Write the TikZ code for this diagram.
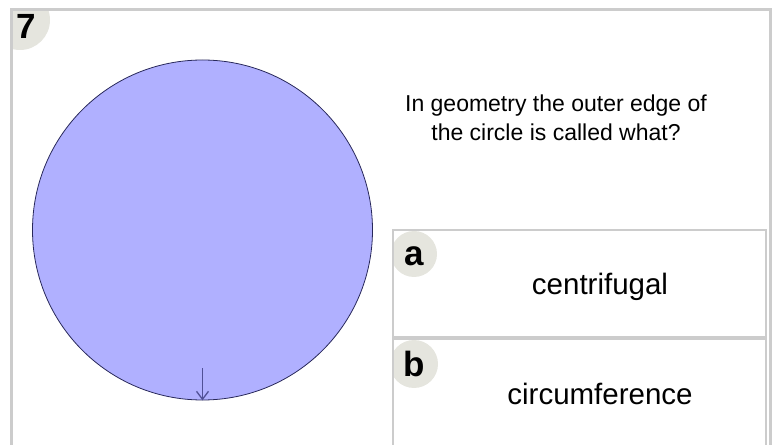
\documentclass[tikz,border=0pt]{standalone}
\usepackage{fontspec}
\setmainfont{Liberation Sans}
\usetikzlibrary{arrows.meta}
\definecolor{framegray}{RGB}{204,204,204}
\definecolor{badgegray}{RGB}{229,229,222}
\definecolor{discfill}{RGB}{176,176,255}
\definecolor{discline}{RGB}{40,40,90}
\definecolor{arrowcol}{RGB}{80,80,150}
\tikzset{
  frameline/.style={draw=framegray, line width=3bp},
  boxline/.style={draw=framegray, line width=2bp},
  badge/.style={fill=badgegray},
  badgetext/.style={inner sep=0pt, anchor=base, font=\fontsize{35bp}{38bp}\selectfont\bfseries},
  answertext/.style={inner sep=0pt, anchor=base, font=\fontsize{29.5bp}{34bp}\selectfont},
  questiontext/.style={inner sep=0pt, anchor=base, align=center, font=\fontsize{23bp}{28.5bp}\selectfont}
}
\begin{document}
\begin{tikzpicture}[x=1bp,y=-1bp]
\useasboundingbox (0,0) rectangle (776,445);
\clip (0,0) rectangle (776,445);
% badge for question number
\begin{scope}
  \clip (13,11) rectangle (769,445);
  \fill[badge] (20,20) circle[radius=30];
\end{scope}
% outer frame
\draw[frameline] (11.5,460) -- (11.5,9.5) -- (770.5,9.5) -- (770.5,460);
\node[badgetext] (num) at (26.5,38.5) {7};
% disc
\node[circle, minimum size=340bp, inner sep=0pt, fill=discfill, draw=discline, line width=0.8bp] (disc) at (202.5,230) {};
\coordinate (arrowtop) at (202.5,368);
\draw[arrowcol, line width=1.3bp, -{Straight Barb[length=8bp,width=12bp]}] (arrowtop) -- (disc.south);
% question
\node[questiontext] (question) at (556,140.5) {In geometry the outer edge of\\the circle is called what?};
% answer boxes
\begin{scope}
  \clip (394,231.5) rectangle (765,336.5);
  \fill[badge] (414,254) circle[radius=23];
\end{scope}
\begin{scope}
  \clip (394,340.5) rectangle (765,445);
  \fill[badge] (414,364) circle[radius=24];
\end{scope}
\draw[boxline] (393,230.5) rectangle (766,337.5);
\draw[boxline] (393,339.5) rectangle (766,460);
\node[badgetext] (la) at (414,266) {a};
\node[badgetext] (lb) at (414,376.5) {b};
\node[answertext] (ansa) at (600,295) {centrifugal};
\node[answertext] (ansb) at (600,404) {circumference};
\end{tikzpicture}
\end{document}
